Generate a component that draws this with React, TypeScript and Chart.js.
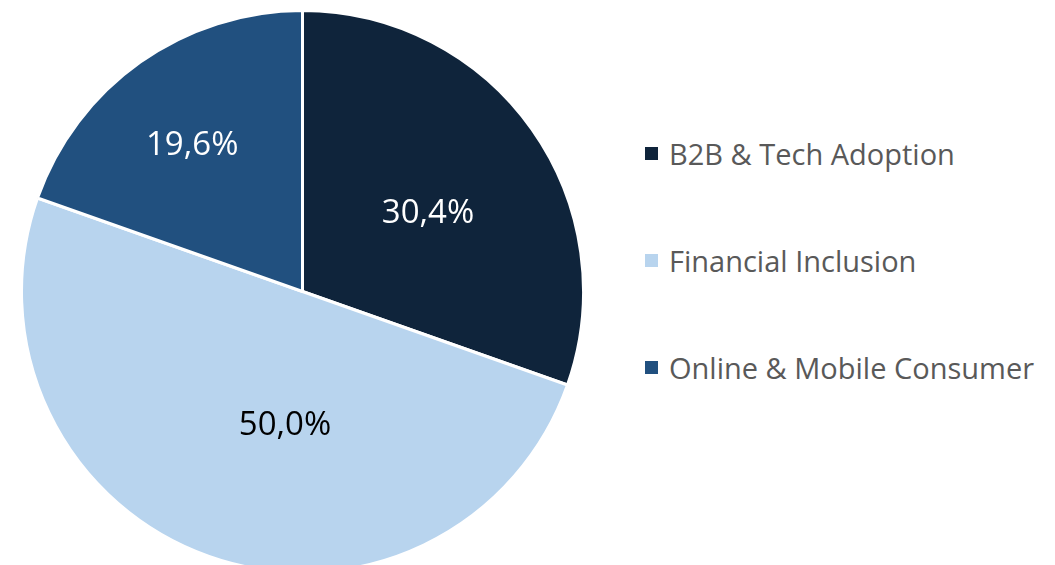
import React, { useEffect, useRef } from "react";
import { Chart, registerables } from "chart.js";

Chart.register(...registerables);

const categories = ["B2B & Tech Adoption", "Financial Inclusion", "Online & Mobile Consumer"];
const values = [30.4, 50.0, 19.6];
const valueLabels = ["30,4%", "50,0%", "19,6%"];

const COLORS = ["#0F243B", "#B8D4EE", "#21507F"];
const LABEL_COLORS = ["#FFFFFF", "#000000", "#FFFFFF"];
// label placement style: fraction of radius and angular nudge (degrees)
const LABEL_STYLE = [
  { r: 0.526, da: 3.4 },
  { r: 0.48, da: -12 },
  { r: 0.651, da: -1.8 },
];
const FONT = "'Open Sans', 'Noto Sans', sans-serif";

const labelPlugin = {
  id: "sliceLabels",
  afterDatasetsDraw(chart: any) {
    const ctx = chart.ctx;
    const meta = chart.getDatasetMeta(0);
    ctx.save();
    ctx.font = `33px ${FONT}`;
    ctx.textAlign = "center";
    ctx.textBaseline = "middle";
    meta.data.forEach((arc: any, i: number) => {
      const p = arc.getProps(["x", "y", "startAngle", "endAngle", "outerRadius"], true);
      const st = LABEL_STYLE[i];
      const mid = (p.startAngle + p.endAngle) / 2 + (st.da * Math.PI) / 180;
      const r = p.outerRadius * st.r;
      ctx.fillStyle = LABEL_COLORS[i];
      ctx.fillText(valueLabels[i], p.x + Math.cos(mid) * r, p.y + Math.sin(mid) * r);
    });
    ctx.restore();
  },
};

export default function App() {
  const ref = useRef<HTMLCanvasElement>(null);
  useEffect(() => {
    if (!ref.current) return;
    const chart = new Chart(ref.current, {
      type: "pie",
      data: {
        labels: categories,
        datasets: [
          {
            data: values,
            backgroundColor: COLORS,
            borderColor: "#FFFFFF",
            borderWidth: 3,
          },
        ],
      },
      options: {
        animation: false,
        responsive: false,
        maintainAspectRatio: false,
        layout: { padding: 0 },
        plugins: {
          legend: { display: false },
          tooltip: { enabled: false },
        },
      },
      plugins: [labelPlugin],
    });
    return () => chart.destroy();
  }, []);

  return (
    <div
      style={{
        position: "fixed",
        left: 0,
        top: 0,
        width: 1055,
        height: 565,
        overflow: "hidden",
        background: "#FFFFFF",
      }}
    >
      <canvas
        ref={ref}
        width={565}
        height={565}
        style={{ position: "absolute", left: 19.5, top: 8.5, width: 565, height: 565 }}
      />
      {categories.map((c, i) => (
        <div
          key={c}
          style={{
            position: "absolute",
            left: 645,
            top: 153 + i * 107 - 20,
            height: 40,
            display: "flex",
            alignItems: "center",
            fontFamily: FONT,
            fontSize: 29,
            color: "#595959",
            whiteSpace: "nowrap",
          }}
        >
          <span
            style={{
              display: "inline-block",
              width: 13,
              height: 13,
              background: COLORS[i],
              marginRight: 11,
            }}
          />
          <span>{c}</span>
        </div>
      ))}
    </div>
  );
}
